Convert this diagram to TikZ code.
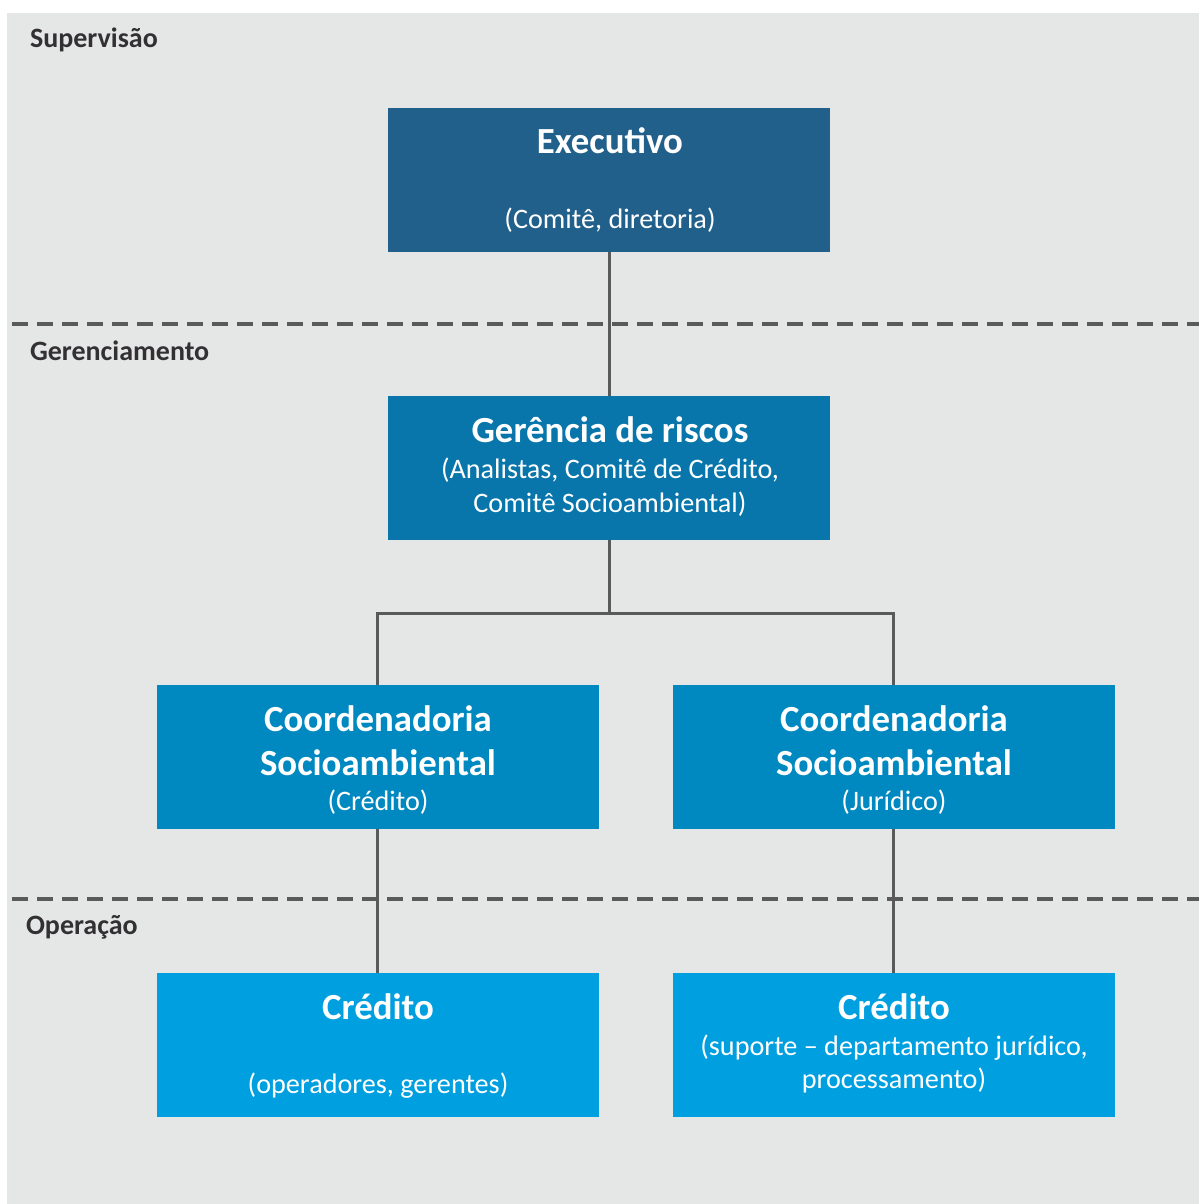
\documentclass[tikz,border=0pt]{standalone}
\usepackage{fontspec}
\setmainfont{Carlito}
\usetikzlibrary{positioning, calc}
\definecolor{panelbg}{RGB}{229, 230, 230}
\definecolor{inkdark}{RGB}{51, 48, 52}
\definecolor{wire}{RGB}{90, 90, 90}
\definecolor{execblue}{RGB}{34, 96, 140}
\definecolor{mgrblue}{RGB}{8, 118, 170}
\definecolor{coordblue}{RGB}{0, 136, 192}
\definecolor{credblue}{RGB}{0, 159, 223}

\begin{document}
\begin{tikzpicture}[
    x=0.5pt, y=-0.5pt,
    box/.style   = {rectangle, draw=none, minimum width=221pt, minimum height=72pt, inner sep=0pt},
    ttl/.style   = {font=\fontsize{18.4}{22}\selectfont\bfseries, text=white, align=center},
    sub/.style   = {font=\fontsize{14.1}{16.8}\selectfont, text=white, align=center},
    lvl/.style   = {font=\fontsize{14}{16}\selectfont\bfseries\color{inkdark}, anchor=west},
    sep/.style   = {color=wire, line width=2pt, dash pattern=on 8pt off 4.5pt},
    link/.style  = {color=wire, line width=1.5pt},
  ]
    % page and grey panel
    \useasboundingbox (0,0) rectangle (1199,1204);
    \fill[panelbg] (7,13) rectangle (1199,1204);

    % level separators
    \draw[sep] (12,324) -- (1199,324);
    \draw[sep] (12,899) -- (1199,899);

    % level labels
    \node[lvl] (supv) at (23,40)  {Supervisão};
    \node[lvl] (gerc) at (23,351) {Gerenciamento};
    \node[lvl] (oper) at (19,927) {Operação};

    % --- boxes ---
    \node[box, fill=execblue]  (exec)   at (609,180)    {};
    \node[box, fill=mgrblue]   (risk)   at (609,468)    {};
    \node[box, fill=coordblue] (coordL) at (377.5,757)  {};
    \node[box, fill=coordblue] (coordR) at (893.5,757)  {};
    \node[box, fill=credblue]  (credL)  at (377.5,1045) {};
    \node[box, fill=credblue]  (credR)  at (893.5,1045) {};

    % --- texts ---
    \node[ttl] at (610,141)  {Executivo};
    \node[sub] at (610,220)  {(Comitê, diretoria)};

    \node[ttl] at (610,430)  {Gerência de riscos};
    \node[sub] at (610,487)  {(Analistas, Comitê de Crédito,\\Comitê Socioambiental)};

    \node[ttl] at (378,741)  {Coordenadoria\\Socioambiental};
    \node[sub] at (378,802)  {(Crédito)};
    \node[ttl] at (894,741)  {Coordenadoria\\Socioambiental};
    \node[sub] at (894,802)  {(Jurídico)};

    \node[ttl] at (378,1007) {Crédito};
    \node[sub] at (378,1086) {(operadores, gerentes)};
    \node[ttl] at (894,1007) {Crédito};
    \node[sub] at (894,1064) {(suporte -- departamento jurídico,\\processamento)};

    % --- connectors ---
    \coordinate (split) at (609,613);
    \draw[link] (exec.south) -- (risk.north);
    \draw[link] (risk.south) -- (split);
    \draw[link] (coordL.north) -- (coordL.north |- split) -- (coordR.north |- split) -- (coordR.north);
    \draw[link] (coordL.south) -- (credL.north);
    \draw[link] (coordR.south) -- (credR.north);
  \end{tikzpicture}
\end{document}
